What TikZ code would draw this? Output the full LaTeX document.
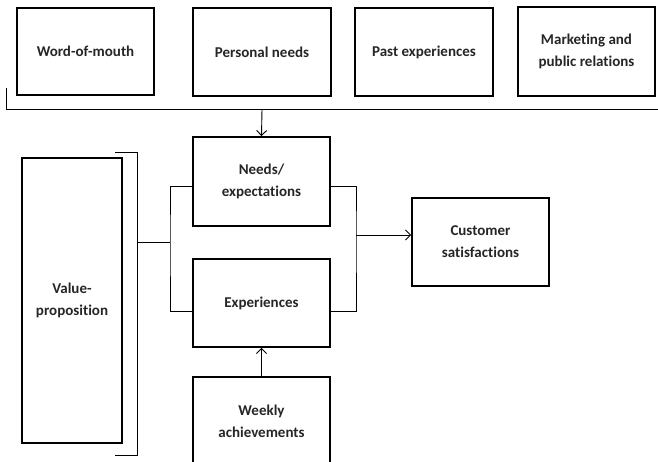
\documentclass[tikz,border=0pt]{standalone}
\usepackage{fontspec}
\setmainfont[Ligatures={NoCommon,NoRare,NoContextual}]{Carlito}
\usetikzlibrary{arrows.meta,calc}
\begin{document}
\begin{tikzpicture}[x=1pt,y=-1pt,
  box/.style={draw=black,line width=1.8pt,rectangle,align=center,inner sep=2pt,
    font=\fontsize{15}{22}\selectfont\bfseries,text=black!85},
  conn/.style={draw=black,line width=0.9pt},
  arr/.style={conn,-{Straight Barb[length=5pt,width=10pt]}}]
\useasboundingbox (0,0) rectangle (658,461);
\clip (0,0) rectangle (658,461);
\fill[white] (0,0) rectangle (658,461);
% top boxes
\node[box,minimum width=137,minimum height=87] (wom) at (85.5,51.5) {Word-of-mouth};
\node[box,minimum width=138,minimum height=88] (pn) at (262,52) {Personal needs};
\node[box,minimum width=138,minimum height=88] (pe) at (424,52) {Past experiences};
\node[box,minimum width=137,minimum height=89] (mk) at (586.5,51.5) {Marketing and\\public relations};
% middle
\node[box,minimum width=137,minimum height=89] (needs) at (261.5,181.5) {Needs/\\expectations};
\node[box,minimum width=137,minimum height=88] (exp) at (261.5,303) {Experiences};
\node[box,minimum width=137,minimum height=89] (weekly) at (261.5,421.5) {Weekly\\achievements};
\node[box,minimum width=137,minimum height=88] (cust) at (480.5,242) {Customer\\satisfactions};
\node[box,minimum width=100,minimum height=285] (vp) at (72,300.5) {Value-\\proposition};
% top bracket
\coordinate (tl) at (6,88);
\coordinate (tr) at (658,109);
\coordinate (tm) at (262,109);
\draw[conn] (tl) |- (tr);
\draw[arr] (tm) -- (needs.north);
% value-proposition bracket
\coordinate (b1) at (115,152);
\coordinate (b2) at (137,152);
\coordinate (b3) at (137,455);
\coordinate (b4) at (115,455);
\coordinate (bm) at (137,242);
\draw[conn] (b1) -- (b2) -- (b3) -- (b4);
\coordinate (jl) at (170,242);
\draw[conn] (bm) -- (jl);
\draw[conn] ($(needs.west)+(0,4.5)$) -| (jl) |- ($(exp.west)+(0,8)$);
% right join
\coordinate (jr) at (356,235);
\draw[conn] ($(needs.east)+(0,4.5)$) -| (jr) |- ($(exp.east)+(0,8)$);
\draw[arr] (jr) -- (cust.west |- jr);
% weekly to experiences
\draw[arr] (weekly.north) -- (exp.south);
\end{tikzpicture}
\end{document}
